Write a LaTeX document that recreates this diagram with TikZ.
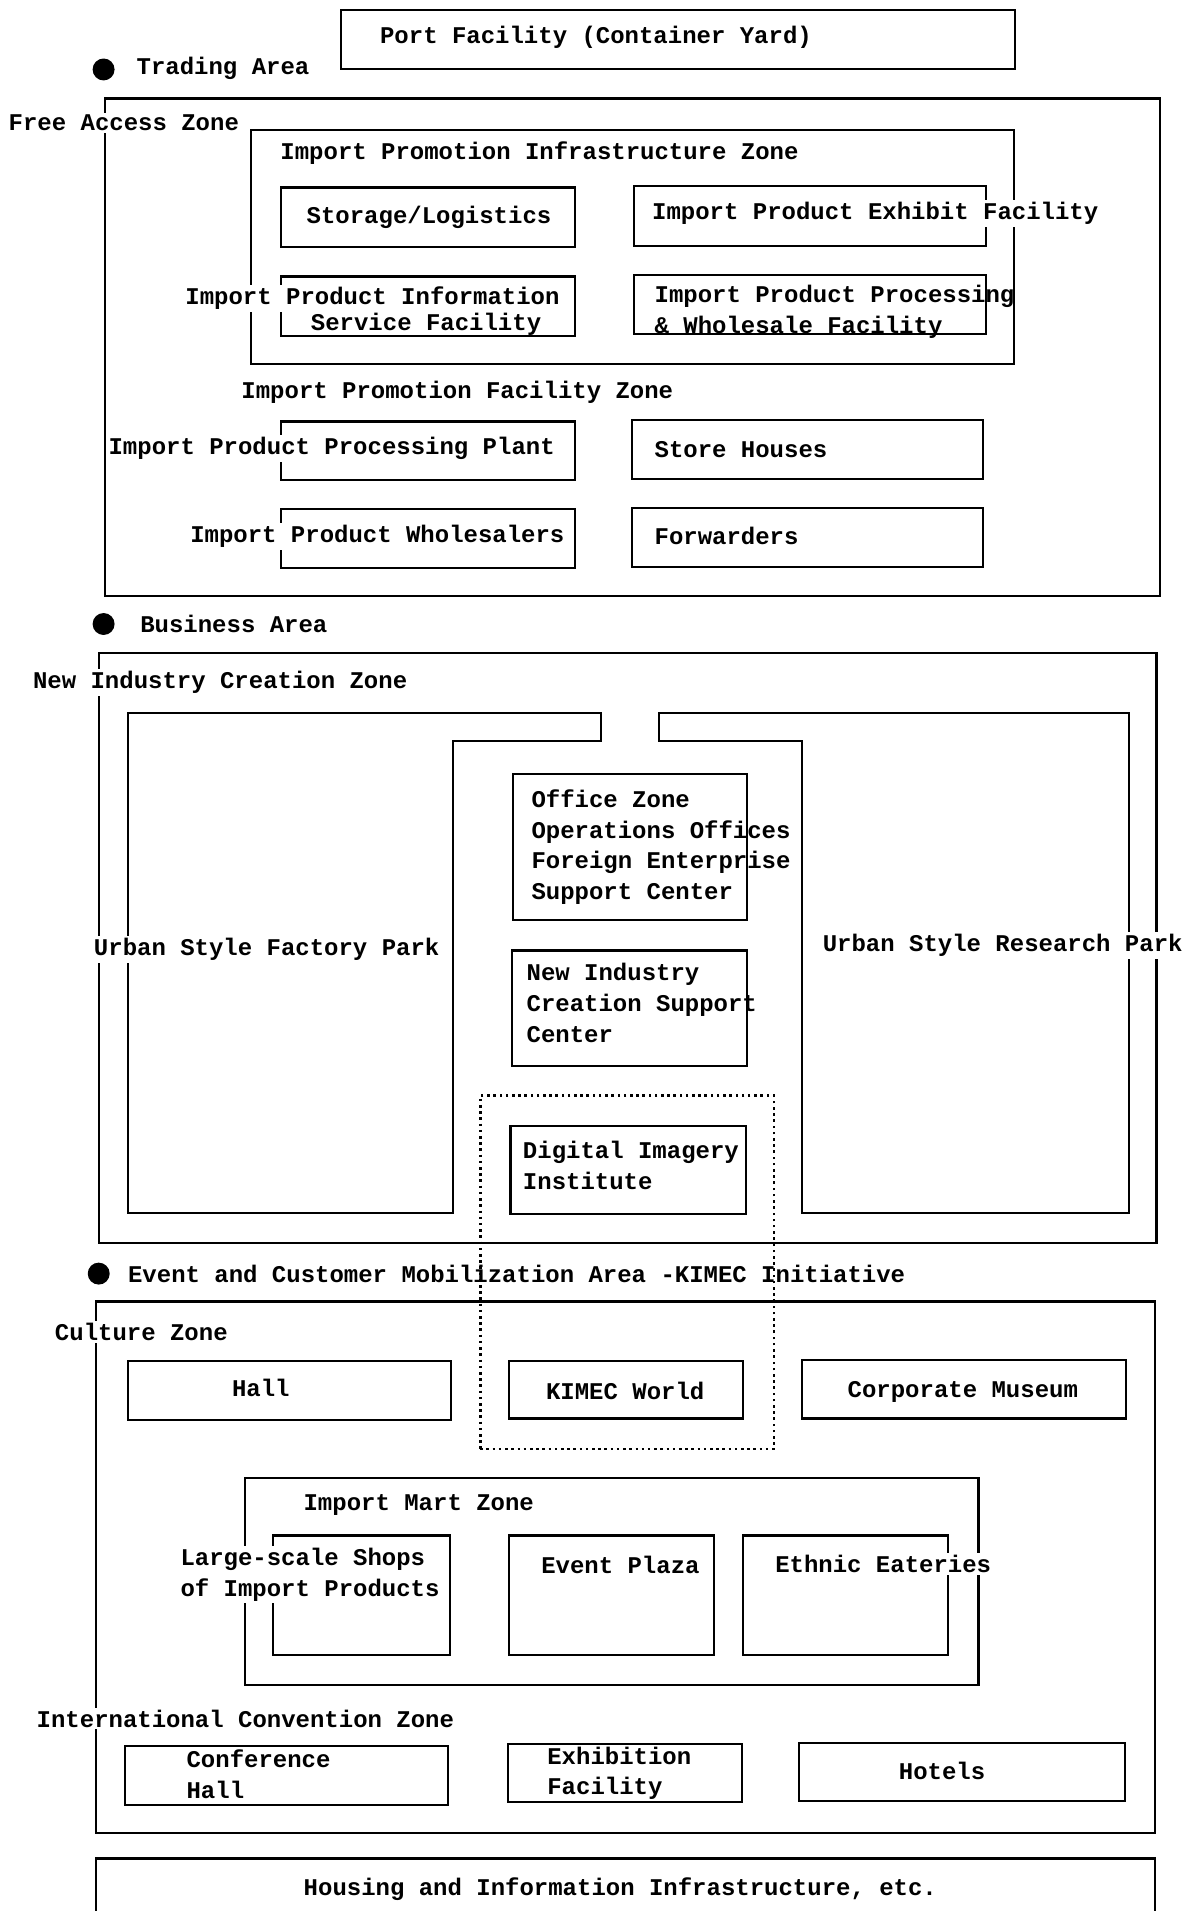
\documentclass[tikz,border=0pt]{standalone}
\usepackage{fontspec}
\setmonofont{Liberation Mono}
\usepackage{tikz}
\tikzset{
  lbl/.style = {font=\ttfamily\bfseries\fontsize{11.2}{14.4}\selectfont,
    inner sep=1pt, align=left, anchor=west},
  lbl_w/.style = {lbl, fill=white},% label that covers a border
  lbl_c/.style = {lbl, anchor=center},
  sz/.style 2 args = {minimum width=#1*0.02cm, minimum height=#2*0.02cm},
  fac_box/.style = {rectangle, draw=black, line width=1pt, inner sep=0pt,
    anchor=north west},
  dot_zone/.style = {fac_box, line width=1.2pt, dash pattern=on 1.2pt off 1.7pt},
  area_dot/.style = {circle, fill=black, inner sep=0pt, minimum size=0.36cm}
}

\begin{document}
\begin{tikzpicture}[x=0.02cm, y=-0.02cm]
\useasboundingbox (0,0) rectangle (971,1568);

% trading area
\node [fac_box, sz={553}{49}] (port) at (279,7) {};
\node [lbl_c] (portT) at (489,31) {Port Facility (Container Yard)};
\node [area_dot] (tradeDot) at (85,57) {};
\node [lbl] (tradeT) at (110,56) {Trading Area};

\node [fac_box, sz={866}{408}] (trade) at (85,80) {};
\node [lbl_w] (freeT) at (5,101) {Free Access Zone};
\node [fac_box, sz={626}{192}] (infra) at (205,106) {};
\node [lbl] (infraT) at (228,126) {Import Promotion Infrastructure Zone};

\node [fac_box, sz={241}{49}] (storage) at (230,153) {};
\node [lbl_c] (storageT) at (352,178) {Storage/Logistics};
\node [fac_box, sz={289}{49}] (exhibit) at (519,152) {};
\node [lbl_w] (exhibitT) at (533,175) {Import Product Exhibit Facility};
\node [fac_box, sz={241}{49}] (info) at (230,226) {};
\node [lbl_w] (infoT) at (150,245) {Import Product Information};
\node [lbl] (infoT2) at (253,266) {Service Facility};
\node [fac_box, sz={289}{48}] (procwh) at (519,225) {};
\node [lbl] (procwhT) at (535,256) {Import Product Processing\\\& Wholesale Facility};

\node [lbl] (facT) at (196,322) {Import Promotion Facility Zone};
\node [fac_box, sz={241}{48}] (plant) at (230,345) {};
\node [lbl_w] (plantT) at (87,368) {Import Product Processing Plant};
\node [fac_box, sz={288}{48}] (store) at (518,344) {};
\node [lbl] (storeT) at (535,369) {Store Houses};
\node [fac_box, sz={241}{48}] (whole) at (230,417) {};
\node [lbl_w] (wholeT) at (154,440) {Import Product Wholesalers};
\node [fac_box, sz={288}{48}] (fwd) at (518,416) {};
\node [lbl] (fwdT) at (535,440) {Forwarders};

% business area
\node [area_dot] (bizDot) at (85,512) {};
\node [lbl] (bizT) at (113,512) {Business Area};
\node [fac_box, sz={868}{484}] (biz) at (80,535) {};
\node [lbl_w] (nicT) at (25,560) {New Industry Creation Zone};

\draw [line width=1pt] (105,585) -- (493,585) -- (493,608) -- (372,608)
  -- (372,995) -- (105,995) -- cycle;
\draw [line width=1pt] (541,585) -- (926,585) -- (926,995) -- (658,995)
  -- (658,608) -- (541,608) -- cycle;
\node [lbl_w] (factT) at (75,779) {Urban Style Factory Park};
\node [lbl_w] (resT) at (673,776) {Urban Style Research Park};

\node [fac_box, sz={192}{120}] (office) at (420,634) {};
\node [lbl] (officeT) at (434,695) {Office Zone\\Operations Offices\\Foreign Enterprise\\Support Center};
\node [fac_box, sz={193}{95}] (support) at (419,779) {};
\node [lbl] (supportT) at (430,823) {New Industry\\Creation Support\\Center};
\node [fac_box, sz={193}{72}] (digital) at (418,923) {};
\node [lbl] (digitalT) at (427,956) {Digital Imagery\\Institute};

\node [dot_zone, sz={241}{290}] (kimecZone) at (393,898) {};

% event and customer mobilization area
\node [area_dot] (eventDot) at (81,1045) {};
\node [lbl] (eventT) at (103,1045) {Event and Customer Mobilization Area -KIMEC Initiative};
\node [fac_box, sz={869}{436}] (event) at (78,1067) {};
\node [lbl_w] (cultT) at (43,1093) {Culture Zone};

\node [fac_box, sz={265}{48}] (hall) at (104,1116) {};
\node [lbl_c] (hallT) at (214,1139) {Hall};
\node [fac_box, sz={192}{47}] (kimec) at (417,1116) {};
\node [lbl_c] (kimecT) at (513,1141) {KIMEC World};
\node [fac_box, sz={266}{48}] (museum) at (657,1115) {};
\node [lbl_c] (museumT) at (790,1142) {Corporate Museum};

\node [fac_box, sz={602}{170}] (mart) at (200,1212) {};
\node [lbl] (martT) at (247,1235) {Import Mart Zone};
\node [fac_box, sz={145}{98}] (shops) at (223,1259) {};
\node [lbl_w] (shopsT) at (146,1292) {Large-scale Shops\\of Import Products};
\node [fac_box, sz={168}{98}] (plaza) at (417,1259) {};
\node [lbl] (plazaT) at (442,1284) {Event Plaza};
\node [fac_box, sz={168}{98}] (eat) at (609,1259) {};
\node [lbl_w] (eatT) at (634,1283) {Ethnic Eateries};

\node [lbl_w] (convT) at (28,1410) {International Convention Zone};
\node [fac_box, sz={265}{48}] (conf) at (102,1432) {};
\node [lbl] (confT) at (151,1456) {Conference\\Hall};
\node [fac_box, sz={192}{48}] (exhib) at (416,1430) {};
\node [lbl] (exhibT) at (447,1455) {Exhibition\\Facility};
\node [fac_box, sz={267}{48}] (hotel) at (655,1429) {};
\node [lbl_c] (hotelT) at (773,1453) {Hotels};

% bottom strip, cut by the page edge
\node [fac_box, sz={869}{80}] (housing) at (78,1524) {};
\node [lbl_c] (housingT) at (509,1550) {Housing and Information Infrastructure, etc.};

\end{tikzpicture}
\end{document}
